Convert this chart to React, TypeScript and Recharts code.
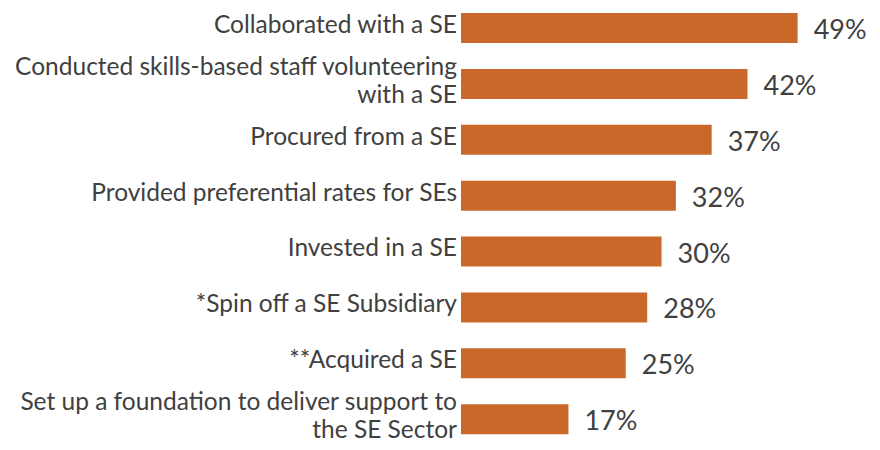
import { BarChart, Bar, XAxis, YAxis, LabelList } from 'recharts';

const categories = [
  'Collaborated with a SE',
  'Conducted skills-based staff volunteering\nwith a SE',
  'Procured from a SE',
  'Provided preferential rates for SEs',
  'Invested in a SE',
  '*Spin off a SE Subsidiary',
  '**Acquired a SE',
  'Set up a foundation to deliver support to\nthe SE Sector',
];
const values = [49, 42, 37, 32, 30, 28, 25, 17];

const data = categories.map((name, i) => ({ name, value: values[i] }));

const TEXT = '#404040';
const FONT = 'Lato, "Open Sans", sans-serif';

function CategoryTick(props: any) {
  const { x, y, payload } = props;
  const lines: string[] = String(payload.value).split('\n');
  const offsets = lines.length === 1 ? [5] : [-9, 19];
  return (
    <g>
      {lines.map((line, i) => (
        <text
          key={i}
          x={x}
          y={y + offsets[i]}
          textAnchor="end"
          fill={TEXT}
          fontSize={24.5}
          fontFamily={FONT}
        >
          {line}
        </text>
      ))}
    </g>
  );
}

function ValueLabel(props: any) {
  const { x, y, width, height, value } = props;
  return (
    <text
      x={x + width + 16}
      y={y + height / 2 + 11}
      fill={TEXT}
      fontSize={27}
      fontFamily={FONT}
    >
      {value}%
    </text>
  );
}

export default function App() {
  return (
    <div style={{ position: 'absolute', left: 0, top: 0, background: '#fff' }}>
      <BarChart
        width={880}
        height={450}
        data={data}
        layout="vertical"
        margin={{ top: 0, right: 0, bottom: 3, left: 0 }}
      >
        <XAxis type="number" hide domain={[2, 60.5]} allowDataOverflow />
        <YAxis
          type="category"
          dataKey="name"
          width={461}
          axisLine={false}
          tickLine={false}
          tickSize={0}
          tickMargin={4}
          interval={0}
          tick={<CategoryTick />}
        />
        <Bar dataKey="value" fill="#C96828" barSize={30} isAnimationActive={false}>
          <LabelList dataKey="value" content={<ValueLabel />} />
        </Bar>
      </BarChart>
    </div>
  );
}
